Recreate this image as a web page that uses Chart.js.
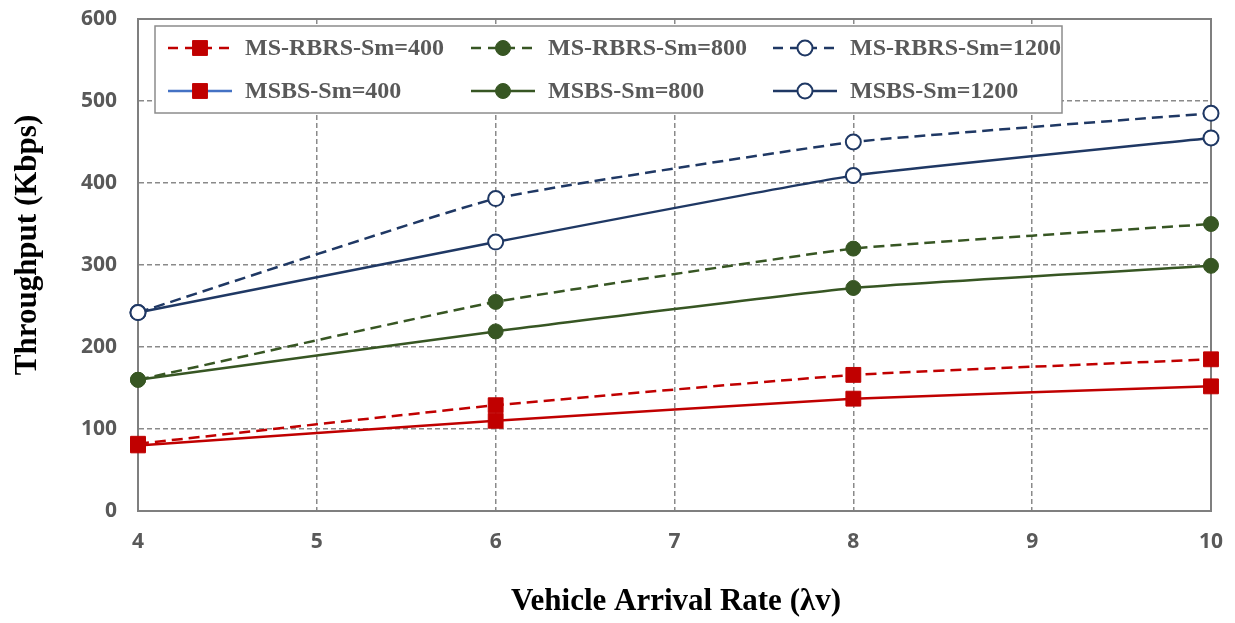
<!DOCTYPE html>
<html>
<head>
<meta charset="utf-8">
<script src="https://cdn.jsdelivr.net/npm/chart.js@4.4.1/dist/chart.umd.min.js"></script>
<style>
  html, body { margin: 0; padding: 0; background: #fff; }
  #wrap { width: 1235px; height: 623px; }
</style>
</head>
<body>
<div id="wrap"><canvas id="chart" width="1235" height="623"></canvas></div>
<script>
// Throughput vs vehicle arrival rate
const arrivalRates = [4, 6, 8, 10];
const rbrs400 = [82, 129, 166, 185];
const msbs400 = [80, 110, 137, 152];
const rbrs800 = [160, 255, 320, 350];
const msbs800 = [160, 219, 272, 299];
const rbrs1200 = [242, 381, 450, 485];
const msbs1200 = [242, 328, 409, 455];

const RED = '#C00000';
const GREEN = '#375623';
const NAVY = '#1F3864';
const GRID = '#8a8a8a';
const TICK_FONT = { family: 'Open Sans', weight: 'bold', size: 21 };

const toPoints = (vals) => vals.map((v, i) => ({ x: arrivalRates[i], y: v }));

function series(label, vals, color, dashed, style, open) {
    return {
        label: label,
        data: toPoints(vals),
        borderColor: color,
        backgroundColor: open ? '#ffffff' : color,
        borderWidth: 2.5,
        borderDash: dashed ? [11, 6] : [],
        pointStyle: style,
        pointRadius: style === 'rect' ? 10.5 : 7.5,
        pointBorderWidth: open ? 2 : 1,
        pointBorderColor: color,
        pointBackgroundColor: open ? '#ffffff' : color,
        tension: 0.12,
        clip: false,
    };
}

const datasets = [
    series('MS-RBRS-Sm=400', rbrs400, RED, true, 'rect', false),
    series('MS-RBRS-Sm=800', rbrs800, GREEN, true, 'circle', false),
    series('MS-RBRS-Sm=1200', rbrs1200, NAVY, true, 'circle', true),
    series('MSBS-Sm=400', msbs400, RED, false, 'rect', false),
    series('MSBS-Sm=800', msbs800, GREEN, false, 'circle', false),
    series('MSBS-Sm=1200', msbs1200, NAVY, false, 'circle', true),
];
// the original legend draws this sample line in blue
datasets[3].legendLineColor = '#4472C4';

// plot frame (top and right edges are solid too)
const framePlugin = {
    id: 'frame',
    beforeDatasetsDraw(chart) {
        const { ctx, chartArea: a } = chart;
        ctx.save();
        ctx.strokeStyle = '#7f7f7f';
        ctx.lineWidth = 2;
        ctx.strokeRect(a.left, a.top, a.right - a.left, a.bottom - a.top);
        ctx.restore();
    }
};

// boxed legend inside the plot, 3 columns x 2 rows
const boxLegend = {
    id: 'boxLegend',
    afterDraw(chart) {
        const ctx = chart.ctx;
        const cols = [168, 471, 773];
        const rows = [48, 91];
        ctx.save();
        ctx.fillStyle = '#ffffff';
        ctx.fillRect(155, 26, 907, 87);
        ctx.strokeStyle = '#8c8c8c';
        ctx.lineWidth = 1.5;
        ctx.strokeRect(155, 26, 907, 87);

        chart.data.datasets.forEach((ds, i) => {
            const x = cols[i % 3];
            const y = rows[Math.floor(i / 3)];
            ctx.strokeStyle = ds.legendLineColor || ds.borderColor;
            ctx.lineWidth = ds.borderWidth;
            ctx.setLineDash(ds.borderDash.length ? [10, 7] : []);
            ctx.beginPath();
            ctx.moveTo(x, y);
            ctx.lineTo(x + 64, y);
            ctx.stroke();
            ctx.setLineDash([]);
            ctx.fillStyle = ds.pointBackgroundColor;
            ctx.strokeStyle = ds.pointBorderColor;
            ctx.lineWidth = ds.pointBorderWidth;
            Chart.helpers.drawPoint(ctx, {
                pointStyle: ds.pointStyle,
                radius: ds.pointRadius,
                borderWidth: ds.pointBorderWidth,
                rotation: 0
            }, x + 32, y);

            ctx.fillStyle = '#595959';
            ctx.font = 'bold 24px "Liberation Serif"';
            ctx.textBaseline = 'middle';
            ctx.textAlign = 'left';
            ctx.fillText(ds.label, x + 77, y + 1);
        });
        ctx.restore();
    }
};

// axis titles
const axisTitles = {
    id: 'axisTitles',
    afterDraw(chart) {
        const ctx = chart.ctx;
        ctx.save();
        ctx.fillStyle = '#000000';
        ctx.font = 'bold 31px "Liberation Serif"';
        ctx.textAlign = 'center';
        ctx.textBaseline = 'middle';
        ctx.fillText('Vehicle Arrival Rate (\u03bbv)', 676, 602);
        ctx.translate(28, 245);
        ctx.rotate(-Math.PI / 2);
        ctx.fillText('Throughput (Kbps)', 0, 0);
        ctx.restore();
    }
};

new Chart(document.getElementById('chart').getContext('2d'), {
    type: 'line',
    data: { datasets: datasets },
    options: {
        responsive: false,
        animation: false,
        layout: { padding: { top: 19, right: 24, bottom: 0, left: 0 } },
        plugins: {
            legend: { display: false },
            tooltip: { enabled: false },
        },
        scales: {
            x: {
                type: 'linear',
                min: 4,
                max: 10,
                ticks: { stepSize: 1, color: '#595959', font: TICK_FONT, padding: 18 },
                grid: { color: GRID, lineWidth: 1.5, drawTicks: false },
                border: { display: true, color: '#7f7f7f', width: 2, dash: [5, 3] },
                afterFit(scale) {
                    scale.height = 112;
                    scale.paddingLeft = 0;
                    scale.paddingRight = 0;
                },
            },
            y: {
                min: 0,
                max: 600,
                ticks: { stepSize: 100, color: '#595959', font: TICK_FONT, padding: 21 },
                grid: { color: GRID, lineWidth: 1.5, drawTicks: false },
                border: { display: true, color: '#7f7f7f', width: 2, dash: [5, 3] },
                afterFit(scale) {
                    scale.width = 138;
                    scale.paddingTop = 0;
                    scale.paddingBottom = 0;
                },
            },
        },
    },
    plugins: [framePlugin, boxLegend, axisTitles],
});
</script>
</body>
</html>
